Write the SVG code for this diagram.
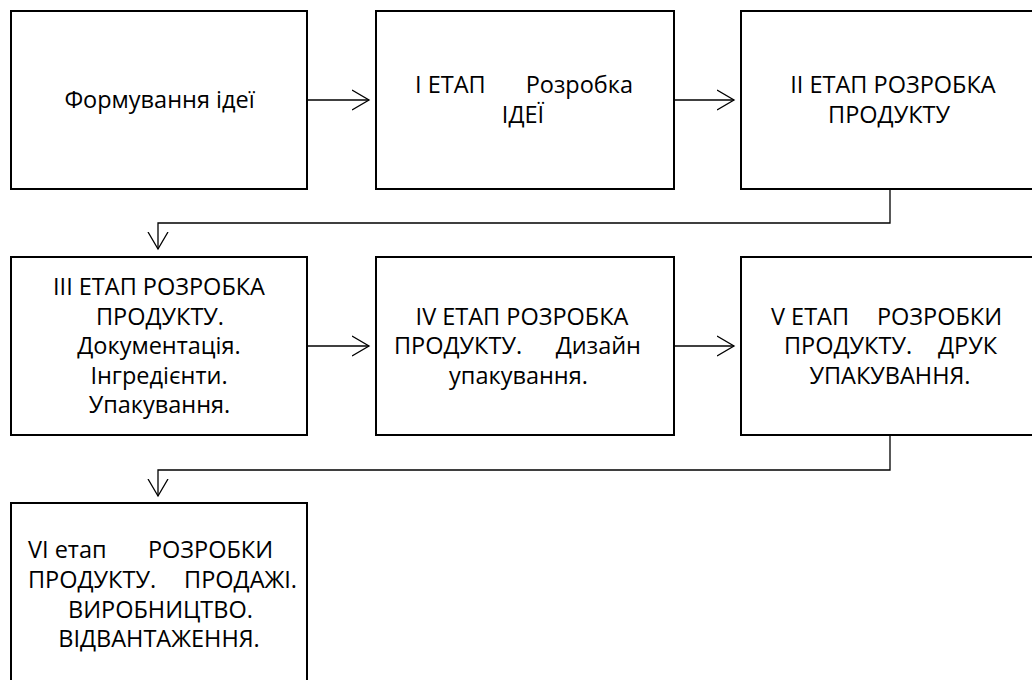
<svg xmlns="http://www.w3.org/2000/svg" width="1032" height="680" viewBox="0 0 1032 680">
<style>
.box{fill:#fff;stroke:#000;stroke-width:2}
.conn{fill:none;stroke:#000;stroke-width:1.3}
.t{font-family:"Open Sans","Noto Sans","Liberation Sans",sans-serif;font-size:23.5px;fill:#000}
.c{text-anchor:middle}
.e{text-anchor:end}
</style>
<defs>
<marker id="ah" markerUnits="userSpaceOnUse" viewBox="0 0 20 22" refX="17.5" refY="11" markerWidth="20" markerHeight="22" orient="auto">
<path d="M0.5,1 L17.5,11 L0.5,21" fill="none" stroke="#000" stroke-width="1.3"/>
</marker>
</defs>
<rect width="1032" height="680" fill="#fff"/>
<g id="connectors">
<path class="conn" d="M307,100 H369" marker-end="url(#ah)"/>
<path class="conn" d="M674,100 H734" marker-end="url(#ah)"/>
<path class="conn" d="M890,189 V223 H158 V249" marker-end="url(#ah)"/>
<path class="conn" d="M307,346 H369" marker-end="url(#ah)"/>
<path class="conn" d="M674,346 H734" marker-end="url(#ah)"/>
<path class="conn" d="M890,435 V470 H158 V496" marker-end="url(#ah)"/>
</g>
<g id="n1">
<rect class="box" x="11" y="11" width="296" height="178"/>
<text class="t c" x="159.5" y="108">Формування ідеї</text>
</g>
<g id="n2">
<rect class="box" x="376" y="11" width="298" height="178"/>
<text class="t" x="415" y="93">I ЕТАП</text>
<text class="t e" x="633" y="93">Розробка</text>
<text class="t c" x="523" y="123">ІДЕЇ</text>
</g>
<g id="n3">
<rect class="box" x="741" y="11" width="300" height="178"/>
<text class="t c" x="893" y="93">II ЕТАП РОЗРОБКА</text>
<text class="t c" x="889" y="123">ПРОДУКТУ</text>
</g>
<g id="n4">
<rect class="box" x="11" y="257" width="296" height="178"/>
<text class="t c" x="159" y="295">III ЕТАП РОЗРОБКА</text>
<text class="t c" x="160" y="324.5">ПРОДУКТУ.</text>
<text class="t c" x="159" y="354">Документація.</text>
<text class="t c" x="159" y="383.5">Інгредієнти.</text>
<text class="t c" x="159.5" y="413">Упакування.</text>
</g>
<g id="n5">
<rect class="box" x="376" y="257" width="298" height="178"/>
<text class="t c" x="522" y="324.5">IV ЕТАП РОЗРОБКА</text>
<text class="t" x="394" y="354">ПРОДУКТУ.</text>
<text class="t e" x="641" y="354">Дизайн</text>
<text class="t c" x="518.5" y="383.5">упакування.</text>
</g>
<g id="n6">
<rect class="box" x="741" y="257" width="300" height="178"/>
<text class="t" x="771" y="324.5">V ЕТАП</text>
<text class="t e" x="1002" y="324.5">РОЗРОБКИ</text>
<text class="t" x="784" y="354">ПРОДУКТУ.</text>
<text class="t e" x="997" y="354">ДРУК</text>
<text class="t c" x="890" y="383.5">УПАКУВАННЯ.</text>
</g>
<g id="n7">
<rect class="box" x="11" y="503" width="296" height="200"/>
<text class="t" x="28" y="558">VI етап</text>
<text class="t e" x="273" y="558">РОЗРОБКИ</text>
<text class="t" x="28" y="588">ПРОДУКТУ.</text>
<text class="t e" x="297" y="588">ПРОДАЖІ.</text>
<text class="t c" x="160.5" y="617.5">ВИРОБНИЦТВО.</text>
<text class="t c" x="159" y="647">ВІДВАНТАЖЕННЯ.</text>
</g>
</svg>
